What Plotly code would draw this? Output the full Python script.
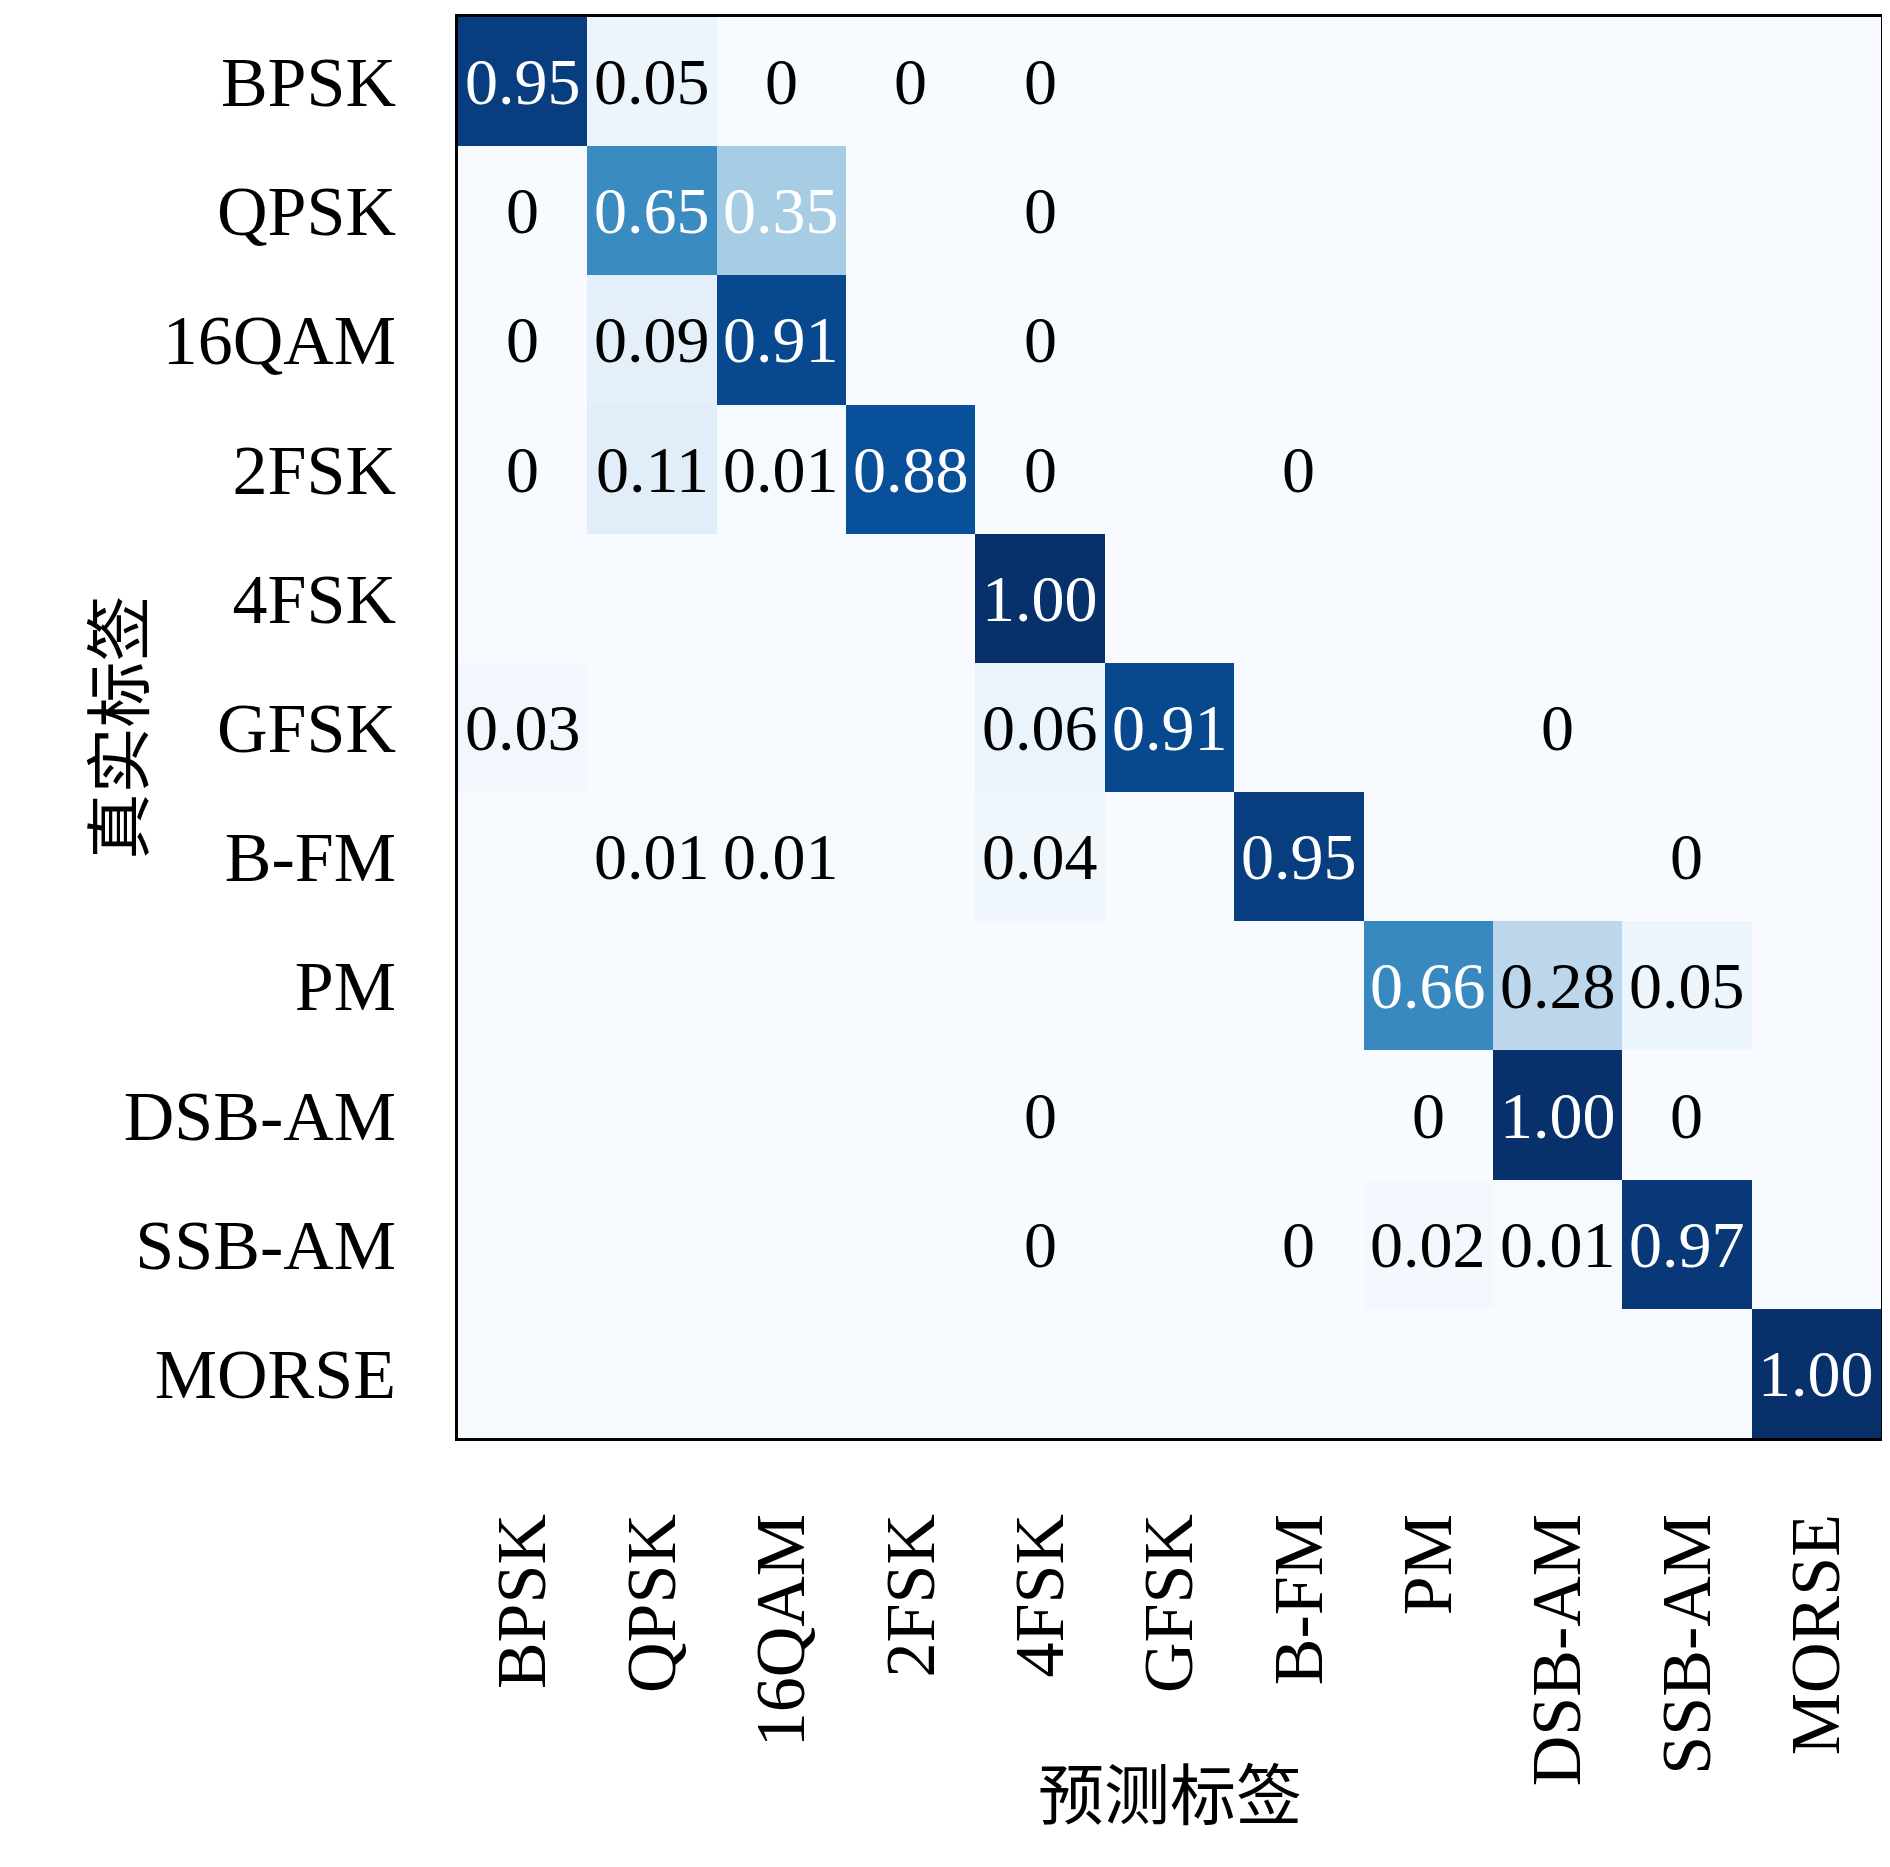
import plotly.graph_objects as go

labels = ["BPSK", "QPSK", "16QAM", "2FSK", "4FSK", "GFSK", "B-FM", "PM", "DSB-AM", "SSB-AM", "MORSE"]

# confusion matrix rows = true label, cols = predicted label
# None = empty cell (exact zero), 0.001 = shown as "0"
rows = [
    [0.95, 0.05, 0.001, 0.001, 0.001, None, None, None, None, None, None],
    [0.001, 0.65, 0.35, None, 0.001, None, None, None, None, None, None],
    [0.001, 0.09, 0.91, None, 0.001, None, None, None, None, None, None],
    [0.001, 0.11, 0.01, 0.88, 0.001, None, 0.001, None, None, None, None],
    [None, None, None, None, 1.00, None, None, None, None, None, None],
    [0.03, None, None, None, 0.06, 0.91, None, None, 0.001, None, None],
    [None, 0.01, 0.01, None, 0.04, None, 0.95, None, None, 0.001, None],
    [None, None, None, None, None, None, None, 0.66, 0.28, 0.05, None],
    [None, None, None, None, 0.001, None, None, 0.001, 1.00, 0.001, None],
    [None, None, None, None, 0.001, None, 0.001, 0.02, 0.01, 0.97, None],
    [None, None, None, None, None, None, None, None, None, None, 1.00],
]

z = [[0 if v is None else v for v in r] for r in rows]

fig = go.Figure(go.Heatmap(
    z=z, x=labels, y=labels, colorscale="Blues", zmin=0, zmax=1,
    showscale=False, hoverinfo="skip"))

for i, r in enumerate(rows):
    for j, v in enumerate(r):
        if v is None:
            continue
        txt = "0" if v < 0.005 else ("%.2f" % v if v >= 1 else ("%.2f" % v).rstrip("0") if False else "%.2f" % v)
        fig.add_annotation(x=labels[j], y=labels[i], text=txt, showarrow=False,
                           font=dict(size=66, color="white" if v >= 0.3 else "black",
                                     family="Liberation Serif"))

fig.update_layout(
    width=1890, height=1867, plot_bgcolor="white", paper_bgcolor="white",
    margin=dict(l=450, r=17, t=6, b=437),
    font=dict(family="Liberation Serif", size=70, color="black"),
)
fig.update_xaxes(tickangle=-90, ticks="", showline=True, linecolor="black", linewidth=3,
                 mirror=True, ticklabelstandoff=45, showgrid=False)
fig.update_yaxes(autorange="reversed", ticks="", showline=True, linecolor="black", linewidth=3,
                 mirror=True, ticklabelstandoff=45, showgrid=False)

fig.add_annotation(text="预测标签", xref="paper", yref="paper", x=0.5, y=0, yshift=-402,
                   showarrow=False, font=dict(family="Noto Sans CJK SC", size=66))
fig.add_annotation(text="真实标签", xref="paper", yref="paper", x=0, xshift=-395, y=0.5,
                   textangle=-90, showarrow=False, font=dict(family="Noto Sans CJK SC", size=66))

fig.write_html("out.html")
